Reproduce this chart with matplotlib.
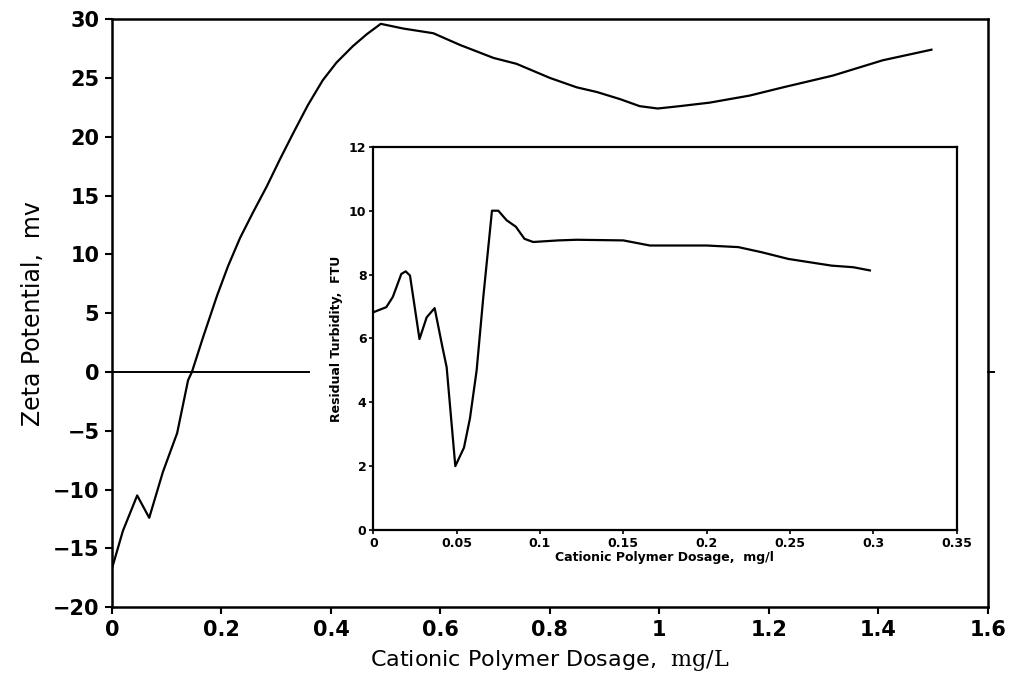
import matplotlib
matplotlib.use("Agg")
import matplotlib.pyplot as plt

# zeta potential vs dosage (main plot)
zeta_x = [0.0, 0.02, 0.046, 0.068, 0.093, 0.119, 0.139, 0.146, 0.166, 0.192, 0.212,
          0.234, 0.258, 0.283, 0.307, 0.331, 0.358, 0.385, 0.41, 0.44, 0.465,
          0.491, 0.532, 0.587, 0.636, 0.697, 0.739, 0.8, 0.849, 0.886, 0.928,
          0.964, 0.997, 1.037, 1.092, 1.165, 1.226, 1.317, 1.408, 1.497]
zeta_y = [-16.7, -13.5, -10.5, -12.4, -8.5, -5.2, -0.7, 0.0, 2.9, 6.5, 9.0,
          11.4, 13.6, 15.8, 18.1, 20.3, 22.7, 24.8, 26.3, 27.7, 28.7,
          29.6, 29.2, 28.8, 27.8, 26.7, 26.2, 25.0, 24.2, 23.8, 23.2,
          22.6, 22.4, 22.6, 22.9, 23.5, 24.2, 25.2, 26.5, 27.4]

# residual turbidity vs dosage (inset)
turb_x = [0.0, 0.0078, 0.0117, 0.0168, 0.0194, 0.022, 0.0277, 0.032, 0.0368,
          0.0415, 0.044, 0.0492, 0.0544, 0.058, 0.062, 0.066, 0.0712, 0.075,
          0.080, 0.0855, 0.0907, 0.0959, 0.111, 0.122, 0.150, 0.166, 0.2,
          0.219, 0.233, 0.249, 0.275, 0.288, 0.298]
turb_y = [6.82, 6.98, 7.3, 8.02, 8.1, 7.97, 5.98, 6.66, 6.95,
          5.72, 5.1, 2.0, 2.58, 3.5, 5.0, 7.3, 10.0, 10.0,
          9.7, 9.5, 9.12, 9.02, 9.07, 9.09, 9.07, 8.91, 8.91,
          8.86, 8.7, 8.49, 8.28, 8.23, 8.13]

main_xticks = [0, 0.2, 0.4, 0.6, 0.8, 1, 1.2, 1.4, 1.6]
main_xlabels = ["0", "0.2", "0.4", "0.6", "0.8", "1", "1.2", "1.4", "1.6"]
main_yticks = [-20, -15, -10, -5, 0, 5, 10, 15, 20, 25, 30]
main_ylabels = ["\u221220", "\u221215", "\u221210", "\u22125", "0", "5", "10", "15", "20", "25", "30"]
inset_xticks = [0, 0.05, 0.1, 0.15, 0.2, 0.25, 0.3, 0.35]
inset_xlabels = ["0", "0.05", "0.1", "0.15", "0.2", "0.25", "0.3", "0.35"]
inset_yticks = [0, 2, 4, 6, 8, 10, 12]

plt.rcParams['mathtext.fontset'] = 'dejavuserif'

fig = plt.figure(figsize=(10.09, 6.83), dpi=100)
ax = fig.add_axes([0.111, 0.111, 0.868, 0.861])
ax.plot(zeta_x, zeta_y, color='black', lw=1.6)
ax.plot([0, 0.36], [0, 0], color='black', lw=1.4)
ax.set_xlim(0, 1.6)
ax.set_ylim(-20, 30)
ax.set_xticks(main_xticks)
ax.set_xticklabels(main_xlabels)
ax.set_yticks(main_yticks)
ax.set_yticklabels(main_ylabels)
ax.tick_params(direction='out', length=5, width=1.5, labelsize=15, pad=4)
for lab in ax.get_xticklabels() + ax.get_yticklabels():
    lab.set_fontweight('bold')
for s in ax.spines.values():
    s.set_linewidth(1.8)
ax.set_xlabel(r"Cationic Polymer Dosage,  $\mathrm{mg/L}$", fontsize=16, labelpad=6)
ax.set_ylabel("Zeta Potential,  mv", fontsize=17, labelpad=6)
# small tick on the right spine at zero
ax.plot([1.6, 1.612], [0, 0], color='black', lw=1.4, clip_on=False)

ins = fig.add_axes([0.370, 0.224, 0.578, 0.561])
ins.plot(turb_x, turb_y, color='black', lw=1.6)
ins.set_xlim(0, 0.35)
ins.set_ylim(0, 12)
ins.set_xticks(inset_xticks)
ins.set_xticklabels(inset_xlabels)
ins.set_yticks(inset_yticks)
ins.tick_params(direction='out', length=3, width=1.2, labelsize=9, pad=2)
for lab in ins.get_xticklabels() + ins.get_yticklabels():
    lab.set_fontweight('bold')
for s in ins.spines.values():
    s.set_linewidth(1.6)
ins.set_xlabel("Cationic Polymer Dosage,  mg/l", fontsize=9, fontweight='bold', labelpad=1)
ins.set_ylabel("Residual Turbidity,  FTU", fontsize=9, fontweight='bold', labelpad=4)

fig.savefig("out.png", dpi=100)
